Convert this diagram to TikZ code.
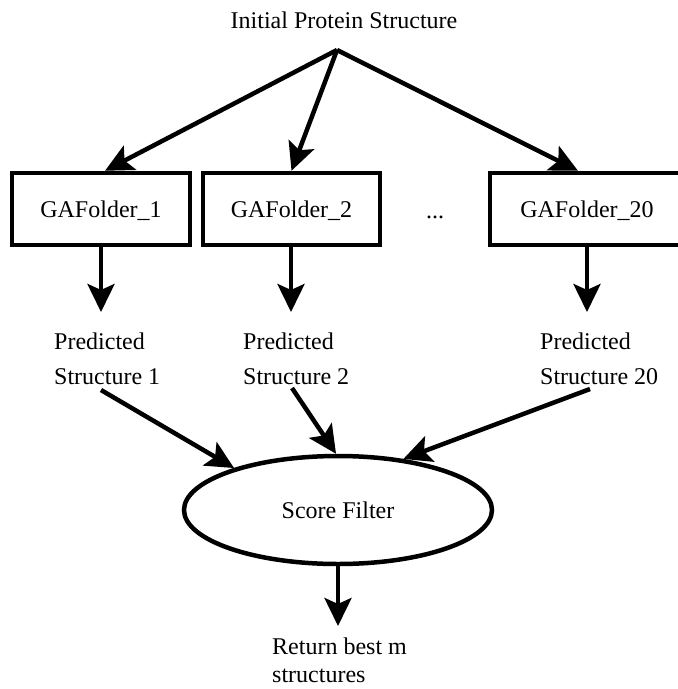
\documentclass[tikz,border=0pt]{standalone}
\usepackage{fontspec}
\setmainfont{Liberation Serif}
\usetikzlibrary{arrows.meta,shapes.geometric}
\begin{document}
\begin{tikzpicture}[x=1pt,y=-1pt,
  lbl/.style={inner sep=0pt,font=\fontsize{24}{35}\selectfont},
  folder/.style={lbl,draw,line width=4.5pt,rectangle,minimum height=72pt,text height=17pt,text depth=-2pt},
  conn/.style={line width=4.5pt,-{Stealth[length=28pt,width=27pt,inset=6pt]}}]
\useasboundingbox (0,0) rectangle (678,689);
\clip (0,0) rectangle (678,689);

% source label and the point the fan-out arrows leave from
\node[lbl,anchor=base] (init) at (344,28) {Initial Protein Structure};
\coordinate (src) at (337,50);

% folder boxes
\node[folder,minimum width=178pt] (f1) at (101,209) {GAFolder\_1};
\node[folder,minimum width=177pt] (f2) at (291.5,209) {GAFolder\_2};
\node[lbl,anchor=base] (dots) at (435,218) {...};
\node[folder,minimum width=194pt] (f20) at (587,209) {GAFolder\_20};

% predicted structures
\node[lbl,anchor=north west,align=left] (p1) at (54,333) {Predicted\\Structure 1};
\node[lbl,anchor=north west,align=left] (p2) at (243,333) {Predicted\\Structure 2};
\node[lbl,anchor=north west,align=left] (p20) at (540,333) {Predicted\\Structure 20};

% filter and result
\node[lbl,draw,ellipse,line width=4.5pt,minimum width=308pt,minimum height=108pt] (sf) at (338,510) {Score Filter};
\node[inner sep=0pt,font=\fontsize{24}{28}\selectfont,anchor=north west,align=left] (ret) at (272,638) {Return best m\\structures};

% arrow end points
\coordinate (d1) at (101,312);
\coordinate (d2) at (291,312);
\coordinate (d20) at (587,312);
\coordinate (s1) at (101,390);
\coordinate (s2) at (292,388);
\coordinate (s20) at (590,389);
\coordinate (dm) at (338,626);

% connectors
\draw[conn] (src) -- ([xshift=4pt]f1.north);
\draw[conn] (src) -- ([xshift=0pt]f2.north);
\draw[conn] (src) -- ([xshift=-9pt]f20.north);
\draw[conn] (f1.south) -- (d1);
\draw[conn] (f2.south -| d2) -- (d2);
\draw[conn] (f20.south -| d20) -- (d20);
\draw[conn] (s1) -- (sf.158);
\draw[conn] (s2) -- (sf.92);
\draw[conn] (s20) -- (sf.38);
\draw[conn] (sf.south) -- (dm);
\end{tikzpicture}
\end{document}
